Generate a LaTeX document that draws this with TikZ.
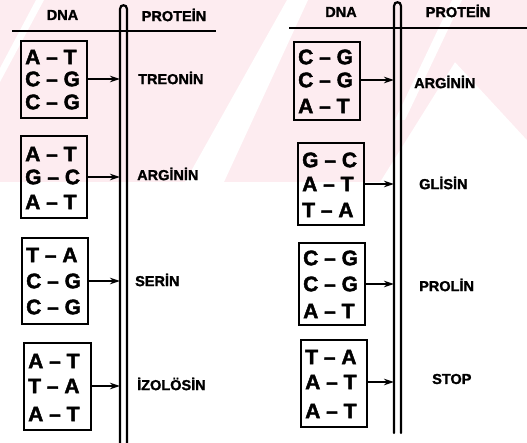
\documentclass[tikz,border=0pt]{standalone}
\usepackage{fontspec}
\setmainfont{Liberation Sans}
\newfontfamily\heavyfont{Liberation Sans}[Ligatures=TeX, BoldFeatures={FakeBold=2}]
\newfontfamily\labelfont{Liberation Sans}[Ligatures=TeX, BoldFeatures={FakeBold=1.5}]
\usetikzlibrary{arrows.meta,fit}
\definecolor{wmpink}{RGB}{253,236,240}
\tikzset{
  x=1pt, y=-1pt,
  codonbox/.style={draw, line width=2.5pt, inner sep=0pt},
  pair/.style={anchor=west, inner sep=0pt, font=\heavyfont\fontsize{21}{21}\selectfont\bfseries},
  head/.style={inner sep=0pt, font=\labelfont\fontsize{14.5}{14.5}\selectfont\bfseries},
  amino/.style={anchor=west, inner sep=0pt, font=\labelfont\fontsize{14.5}{14.5}\selectfont\bfseries},
  conn/.style={line width=2.2pt, -{Stealth[length=10pt,width=6.5pt]}},
  pipe/.style={line width=2.2pt, line cap=round},
  rule/.style={line width=2.4pt},
}
\begin{document}
\begin{tikzpicture}
\useasboundingbox (0,0) rectangle (527,443);

% faint background emblem
\fill[wmpink] (0,0) -- (527,0) -- (527,140) -- (455,62) -- (380,182) -- (0,182) -- cycle;
\fill[white] (185,182) -- (224,182) -- (308,0) -- (287,0) -- cycle;
\fill[white] (0,68) -- (0,82) -- (44,0) -- (36,0) -- cycle;
\fill[white] (395,120) -- (405,120) -- (462,0) -- (452,0) -- cycle;

% ---------- left table ----------
\node[head] (ldna) at (62.5,15) {DNA};
\node[head] (lprot) at (174,15) {PROTEİN};
\coordinate (lruleA) at (12,31);
\coordinate (lruleB) at (216,31);
\draw[rule] (lruleA) -- (lruleB);
\coordinate (lpipe) at (120,0);
\draw[pipe] (120,443) -- (120,9) .. controls (120,4) and (127,4) .. (127,9) -- (127,443);

% codon 1
\node[codonbox, fit={(21,41) (87,118)}] (L1) {};
\node[pair] (L1a) at (25,57) {A – T};
\node[pair] (L1b) at (25,79) {C – G};
\node[pair] (L1c) at (25,102) {C – G};
\node[amino] (P1) at (138,78) {TREONİN};
\draw[conn] (L1.east |- L1b) -- (L1b -| lpipe);

% codon 2
\node[codonbox, fit={(21,136) (87,218)}] (L2) {};
\node[pair] (L2a) at (25,154) {A – T};
\node[pair] (L2b) at (25,177) {G – C};
\node[pair] (L2c) at (25,202) {A – T};
\node[amino] (P2) at (137,174) {ARGİNİN};
\draw[conn] (L2.east |- L2b) -- (L2b -| lpipe);

% codon 3
\node[codonbox, fit={(22,238) (88,324)}] (L3) {};
\node[pair] (L3a) at (26,255) {T – A};
\node[pair] (L3b) at (26,281) {C – G};
\node[pair] (L3c) at (26,307) {C – G};
\node[amino] (P3) at (135,280) {SERİN};
\draw[conn] (L3.east |- L3b) -- (L3b -| lpipe);

% codon 4
\node[codonbox, fit={(24,343) (91,430)}] (L4) {};
\node[pair] (L4a) at (28,361) {A – T};
\node[pair] (L4b) at (28,386) {T – A};
\node[pair] (L4c) at (28,414) {A – T};
\node[amino] (P4) at (137,384) {İZOLÖSİN};
\draw[conn] (L4.east |- L4b) -- (L4b -| lpipe);

% ---------- right table ----------
\node[head] (rdna) at (341,12) {DNA};
\node[head] (rprot) at (458,11) {PROTEİN};
\coordinate (rruleA) at (289,28);
\coordinate (rruleB) at (527,28);
\draw[rule] (rruleA) -- (rruleB);
\coordinate (rpipe) at (394,0);
\draw[pipe] (394,433) -- (394,6) .. controls (394,1) and (401,1) .. (401,6) -- (401,433);

% codon 5
\node[codonbox, fit={(294,42) (360,120)}] (R1) {};
\node[pair] (R1a) at (298,57) {C – G};
\node[pair] (R1b) at (298,80) {C – G};
\node[pair] (R1c) at (298,106) {A – T};
\node[amino] (Q1) at (414,82) {ARGİNİN};
\draw[conn] (R1.east |- R1b) -- (R1b -| rpipe);

% codon 6
\node[codonbox, fit={(298,143) (364,225)}] (R2) {};
\node[pair] (R2a) at (302,160) {G – C};
\node[pair] (R2b) at (302,184) {A – T};
\node[pair] (R2c) at (302,210) {T – A};
\node[amino] (Q2) at (419,183) {GLİSİN};
\draw[conn] (R2.east |- R2b) -- (R2b -| rpipe);

% codon 7
\node[codonbox, fit={(299,243) (365,325)}] (R3) {};
\node[pair] (R3a) at (303,258) {C – G};
\node[pair] (R3b) at (303,284) {C – G};
\node[pair] (R3c) at (303,311) {A – T};
\node[amino] (Q3) at (419,285) {PROLİN};
\draw[conn] (R3.east |- R3b) -- (R3b -| rpipe);

% codon 8
\node[codonbox, fit={(301,340) (367,427)}] (R4) {};
\node[pair] (R4a) at (305,357) {T – A};
\node[pair] (R4b) at (305,382) {A – T};
\node[pair] (R4c) at (305,411) {A – T};
\node[amino] (Q4) at (432,379) {STOP};
\draw[conn] (R4.east |- R4b) -- (R4b -| rpipe);
\end{tikzpicture}
\end{document}
